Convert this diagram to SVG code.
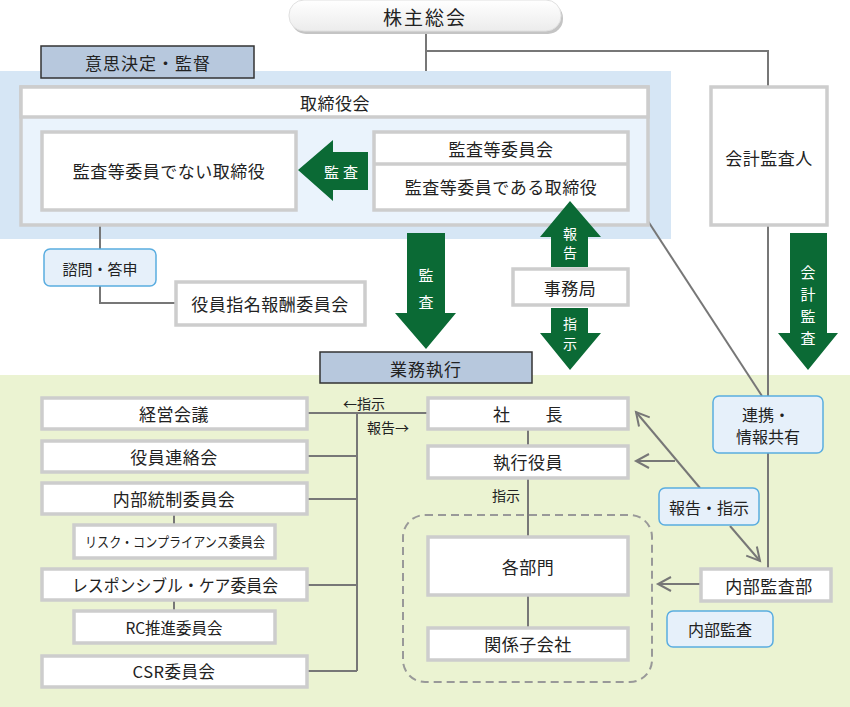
<svg xmlns="http://www.w3.org/2000/svg" width="850" height="707" viewBox="0 0 850 707">
<defs>
<style>
text{font-family:"Noto Sans CJK JP","Noto Sans",sans-serif;fill:#222;text-anchor:middle;dominant-baseline:central}
.t{font-size:17px;letter-spacing:0.5px}
.s{font-size:14px}
.w{fill:#fff;font-size:15px}
.box{fill:#fff;stroke:#cdcdcd;stroke-width:3.5}
.lab{fill:#b7c8dd;stroke:#333;stroke-width:1.5}
.note{fill:#e6f0fa;stroke:#5aade0;stroke-width:1.5}
.ln{fill:none;stroke:#777;stroke-width:2}
.arr{fill:#0b6a35}
</style>
<linearGradient id="pill" x1="0" y1="0" x2="0" y2="1">
<stop offset="0" stop-color="#ffffff"/>
<stop offset="1" stop-color="#ececec"/>
</linearGradient>
<marker id="oa" markerUnits="userSpaceOnUse" markerWidth="18" markerHeight="18" refX="14" refY="8" orient="auto" viewBox="0 0 18 16">
<path d="M1,1 L14,8 L1,15" fill="none" stroke="#777" stroke-width="2"/>
</marker>
</defs>

<!-- background regions -->
<rect x="0" y="71" width="671" height="168" fill="#d6e6f5"/>
<rect x="0" y="375" width="850" height="332" fill="#ebf3d2"/>

<!-- connectors -->
<g id="connectors">
<path class="ln" d="M426,32 V71"/>
<path class="ln" d="M426,51 H768 V86"/>
<path class="ln" d="M768,226 V568"/>
<path class="ln" d="M629,192 L762,396"/>
<path class="ln" d="M100,210 V303 H175"/>
<path class="ln" d="M307,413 H427"/>
<path class="ln" d="M357,413 V671"/>
<path class="ln" d="M307,456 H357 M307,499 H357 M307,585 H357 M307,671 H357"/>
<path class="ln" d="M174,514 V524 M174,600 V610"/>
<path class="ln" d="M528,429 V445 M528,478 V536 M528,595 V627"/>
<path class="ln" d="M700,584 H658" marker-end="url(#oa)"/>
<path class="ln" d="M700,488 L636,412" marker-end="url(#oa)"/>
<path class="ln" d="M730,526 L760,561" marker-end="url(#oa)"/>
<path class="ln" d="M675,461 H636" marker-end="url(#oa)"/>
<rect x="403" y="515" width="249" height="167" rx="22" fill="none" stroke="#999" stroke-width="2" stroke-dasharray="8,5"/>
</g>

<!-- 株主総会 -->
<g id="shareholders">
<rect x="291" y="3" width="272" height="31" rx="15" fill="#c4c4c4"/>
<rect x="289" y="0" width="272" height="31" rx="15" fill="url(#pill)" stroke="#e0e0e0" stroke-width="1"/>
<text x="425" y="16" style="font-size:19px;letter-spacing:2px">株主総会</text>
</g>

<g id="label-decision">
<rect class="lab" x="41" y="46" width="213" height="32"/>
<text x="148" y="62" style="font-size:17px;letter-spacing:1px">意思決定・監督</text>
</g>

<g id="board">
<rect x="21" y="87" width="627" height="138" fill="#eaf3fc" stroke="#cdcdcd" stroke-width="3.5"/>
<rect x="21" y="87" width="627" height="30" fill="#fff" stroke="#cdcdcd" stroke-width="3.5"/>
<text class="t" x="335" y="102">取締役会</text>
</g>

<g id="non-audit-directors">
<rect class="box" x="42" y="132" width="254" height="78"/>
<text class="t" x="169" y="170">監査等委員でない取締役</text>
</g>

<g id="audit-committee">
<rect class="box" x="374" y="132" width="254" height="78"/>
<path d="M374,164 H628" stroke="#cdcdcd" stroke-width="3.5"/>
<text class="t" x="501" y="148">監査等委員会</text>
<text class="t" x="501" y="186">監査等委員である取締役</text>
</g>

<g id="accounting-auditor">
<rect class="box" x="711" y="87" width="116" height="138"/>
<text class="t" x="769" y="157">会計監査人</text>
</g>

<!-- green arrows -->
<g id="arrow-audit-left">
<polygon class="arr" points="298,170 333,140 333,152 368,152 368,190 333,190 333,201"/>
<text class="w" x="343" y="171" style="letter-spacing:4px">監査</text>
</g>
<g id="arrow-audit-down">
<polygon class="arr" points="407,233 445,233 445,313 456,313 426,349 395,313 407,313"/>
<text class="w" x="426" y="274">監</text>
<text class="w" x="426" y="301">査</text>
</g>
<g id="arrow-report">
<polygon class="arr" points="570,201 601,237 588,237 588,267 551,267 551,237 540,237"/>
<text class="w" x="570" y="233" style="font-size:14px">報</text>
<text class="w" x="570" y="252" style="font-size:14px">告</text>
</g>
<g id="secretariat">
<rect class="box" x="513" y="269" width="115" height="36"/>
<text class="t" x="570" y="287">事務局</text>
</g>
<g id="arrow-instruct">
<polygon class="arr" points="551,308 588,308 588,333 601,333 570,370 540,333 551,333"/>
<text class="w" x="570" y="323" style="font-size:14px">指</text>
<text class="w" x="570" y="343" style="font-size:14px">示</text>
</g>
<g id="arrow-accounting-audit">
<polygon class="arr" points="790,233 827,233 827,333 838,333 808,370 778,333 790,333"/>
<text class="w" x="808" y="271">会</text>
<text class="w" x="808" y="293">計</text>
<text class="w" x="808" y="315">監</text>
<text class="w" x="808" y="337">査</text>
</g>

<g id="consult">
<rect class="note" x="44" y="249" width="112" height="37" rx="6"/>
<text x="100" y="268" style="font-size:15px">諮問・答申</text>
</g>
<g id="nomination">
<rect class="box" x="176" y="282" width="189" height="43"/>
<text class="t" x="270" y="303">役員指名報酬委員会</text>
</g>

<g id="label-execution">
<rect class="lab" x="320" y="352" width="212" height="31"/>
<text x="426" y="368" style="font-size:17px;letter-spacing:1px">業務執行</text>
</g>

<!-- left column -->
<g id="management-meeting">
<rect class="box" x="42" y="398" width="265" height="31"/>
<text class="t" x="174" y="413">経営会議</text>
</g>
<g id="officers-liaison">
<rect class="box" x="42" y="441" width="265" height="31"/>
<text class="t" x="174" y="456">役員連絡会</text>
</g>
<g id="internal-control">
<rect class="box" x="42" y="483" width="265" height="31"/>
<text class="t" x="174" y="498">内部統制委員会</text>
</g>
<g id="risk-compliance">
<rect class="box" x="74" y="525" width="201" height="33"/>
<text x="175" y="541" style="font-size:14px" textLength="180" lengthAdjust="spacingAndGlyphs">リスク・コンプライアンス委員会</text>
</g>
<g id="responsible-care">
<rect class="box" x="42" y="569" width="265" height="31"/>
<text x="175" y="584" style="font-size:17px" textLength="206" lengthAdjust="spacingAndGlyphs">レスポンシブル・ケア委員会</text>
</g>
<g id="rc-promotion">
<rect class="box" x="74" y="611" width="201" height="32"/>
<text x="174" y="627" style="font-size:15.5px">RC推進委員会</text>
</g>
<g id="csr">
<rect class="box" x="42" y="656" width="265" height="31"/>
<text x="174" y="671" style="font-size:16.5px;letter-spacing:0.5px">CSR委員会</text>
</g>

<text class="s" x="364" y="403">←指示</text>
<text class="s" x="388" y="427">報告→</text>

<g id="president">
<rect class="box" x="428" y="398" width="200" height="31"/>
<text class="t" x="528" y="413" xml:space="preserve">社　　長</text>
</g>
<g id="executive-officers">
<rect class="box" x="428" y="446" width="200" height="32"/>
<text class="t" x="528" y="461">執行役員</text>
</g>
<text class="s" x="506" y="495">指示</text>
<g id="departments">
<rect class="box" x="428" y="537" width="200" height="58"/>
<text class="t" x="528" y="566">各部門</text>
</g>
<g id="subsidiaries">
<rect class="box" x="428" y="628" width="200" height="32"/>
<text class="t" x="528" y="643">関係子会社</text>
</g>

<g id="cooperation">
<rect class="note" x="713" y="396" width="110" height="57" rx="6"/>
<text x="766" y="414" style="font-size:16px">連携・</text>
<text x="768" y="436" style="font-size:16px">情報共有</text>
</g>
<g id="report-instruct">
<rect class="note" x="659" y="488" width="100" height="37" rx="6"/>
<text x="709" y="507" style="font-size:16px">報告・指示</text>
</g>
<g id="internal-audit-dept">
<rect class="box" x="701" y="569" width="130" height="32"/>
<text class="t" x="769" y="585">内部監査部</text>
</g>
<g id="internal-audit">
<rect class="note" x="667" y="611" width="106" height="36" rx="6"/>
<text x="720" y="629" style="font-size:16px">内部監査</text>
</g>
</svg>
